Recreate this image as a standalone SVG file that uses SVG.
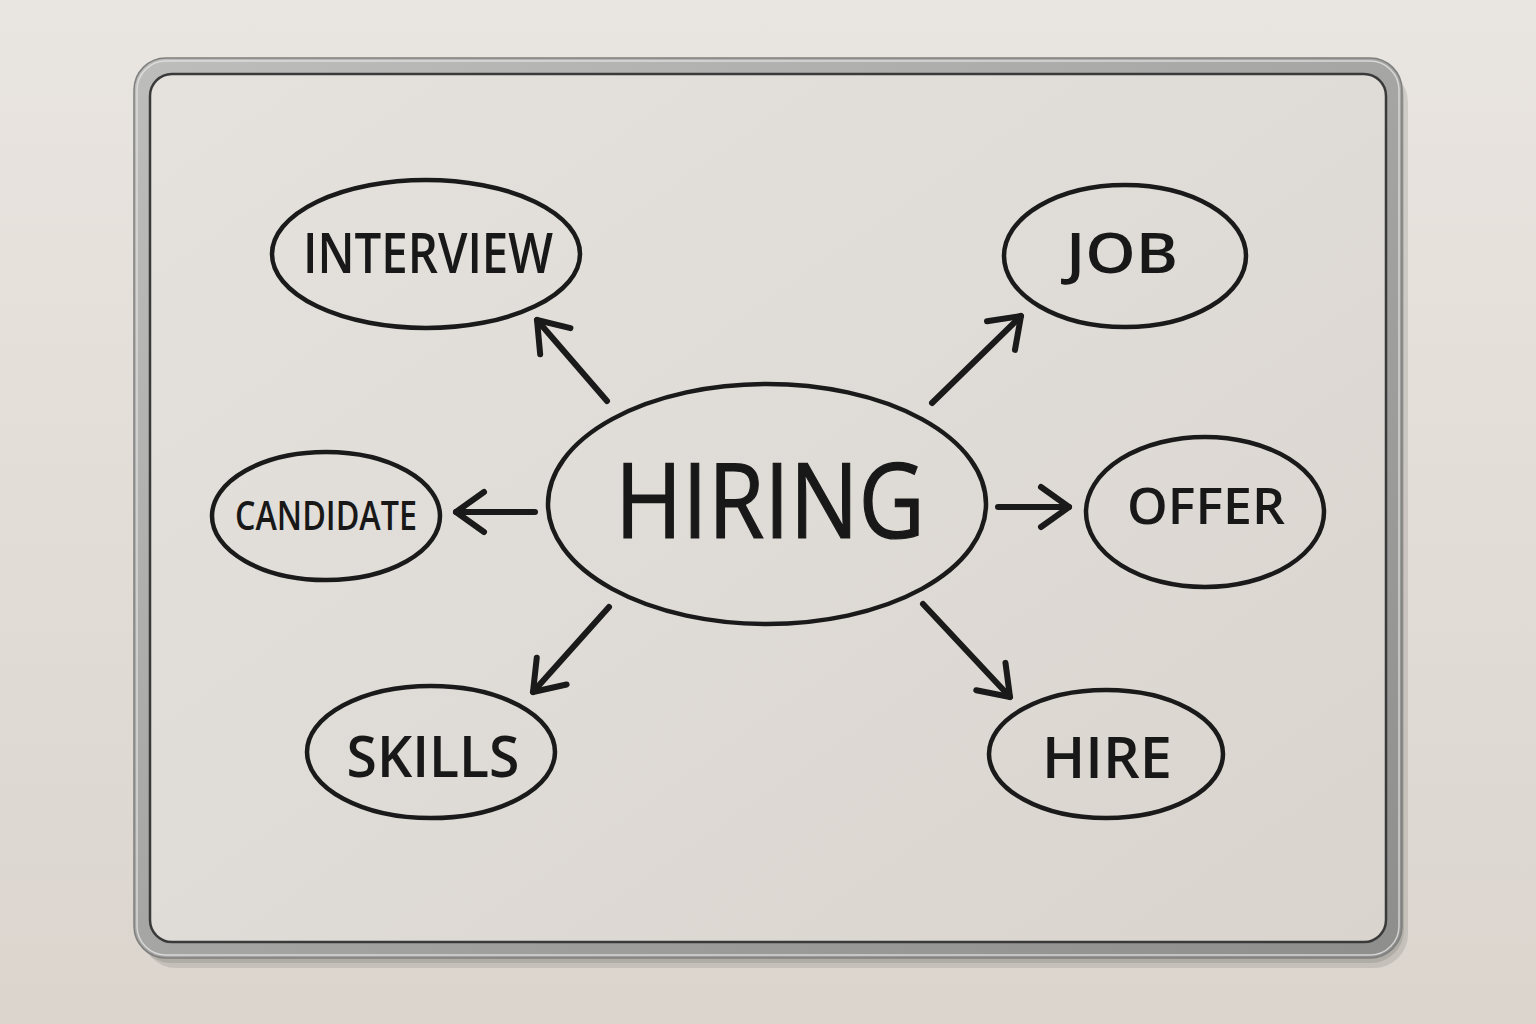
<svg xmlns="http://www.w3.org/2000/svg" width="1536" height="1024" viewBox="0 0 1536 1024">
<defs>
<linearGradient id="wall" x1="0" y1="0" x2="0" y2="1">
<stop offset="0" stop-color="#e9e5e0"/><stop offset="1" stop-color="#dbd5ce"/>
</linearGradient>
<linearGradient id="board" x1="0" y1="0" x2="1" y2="1">
<stop offset="0" stop-color="#e5e2de"/><stop offset="1" stop-color="#d9d4ce"/>
</linearGradient>
<linearGradient id="frame" x1="0" y1="0" x2="1" y2="1">
<stop offset="0" stop-color="#bdbdbc"/><stop offset="1" stop-color="#8e8e8d"/>
</linearGradient>
<radialGradient id="shadow" cx="0.5" cy="0.5" r="0.5">
<stop offset="0.85" stop-color="#000" stop-opacity="0.18"/><stop offset="1" stop-color="#000" stop-opacity="0"/>
</radialGradient>
<marker id="ah" viewBox="-40 -30 50 60" refX="0" refY="0" markerWidth="50" markerHeight="60" markerUnits="userSpaceOnUse" orient="auto" overflow="visible">
<path d="M-28,-20 L0,0 L-28,20" fill="none" stroke="#1a1a1a" stroke-width="6" stroke-linecap="round" stroke-linejoin="round"/>
</marker>
<style>
.node{fill:none;stroke:#1a1a1a;stroke-width:4.5}
.lbl{font-family:"Open Sans","Liberation Sans",sans-serif;font-weight:600;fill:#181818;text-anchor:middle}
.big{font-family:"Open Sans","Liberation Sans",sans-serif;font-weight:400;fill:#181818;stroke:#181818;stroke-width:1.2;text-anchor:middle}
.con{fill:none;stroke:#1a1a1a;stroke-width:6;stroke-linecap:round}
</style>
</defs>
<rect width="1536" height="1024" fill="url(#wall)"/>
<rect x="142" y="68" width="1266" height="900" rx="34" fill="#000" opacity="0.10"/>
<rect x="138" y="63" width="1266" height="900" rx="33" fill="#000" opacity="0.10"/>
<rect x="134" y="58" width="1268" height="900" rx="32" fill="url(#frame)" stroke="#7f7f7e" stroke-width="1.5"/>
<rect x="137" y="61" width="1262" height="894" rx="29" fill="none" stroke="#e4e4e4" stroke-width="1.5" opacity="0.8"/>
<rect x="150" y="74" width="1236" height="868" rx="22" fill="url(#board)" stroke="#3a3a3a" stroke-width="2.5"/>
<g id="hiring"><ellipse class="node" cx="767" cy="504" rx="219" ry="120"/><text class="big" x="770" y="538" font-size="104" textLength="310" lengthAdjust="spacingAndGlyphs">HIRING</text></g>
<g id="interview"><ellipse class="node" cx="426" cy="254" rx="154" ry="74"/><text class="lbl" x="428" y="273" font-size="56" textLength="250" lengthAdjust="spacingAndGlyphs">INTERVIEW</text></g>
<g id="job"><ellipse class="node" cx="1125" cy="256" rx="121" ry="71"/><text class="lbl" x="1122" y="273" font-size="56" textLength="112" lengthAdjust="spacingAndGlyphs">JOB</text></g>
<g id="candidate"><ellipse class="node" cx="326" cy="516" rx="114" ry="64"/><text class="lbl" x="326" y="530" font-size="39" textLength="182" lengthAdjust="spacingAndGlyphs">CANDIDATE</text></g>
<g id="offer"><ellipse class="node" cx="1205" cy="512" rx="119" ry="75"/><text class="lbl" x="1206" y="524" font-size="51" textLength="158" lengthAdjust="spacingAndGlyphs">OFFER</text></g>
<g id="skills"><ellipse class="node" cx="431" cy="752" rx="124" ry="66"/><text class="lbl" x="433" y="777" font-size="57" textLength="173" lengthAdjust="spacingAndGlyphs">SKILLS</text></g>
<g id="hire"><ellipse class="node" cx="1106" cy="754" rx="117" ry="64"/><text class="lbl" x="1107" y="778" font-size="58" textLength="130" lengthAdjust="spacingAndGlyphs">HIRE</text></g>
<g id="connectors">
<line class="con" x1="607" y1="401" x2="537" y2="320" marker-end="url(#ah)"/>
<line class="con" x1="932" y1="403" x2="1021" y2="316" marker-end="url(#ah)"/>
<line class="con" x1="535" y1="512" x2="456" y2="512" marker-end="url(#ah)"/>
<line class="con" x1="998" y1="507" x2="1069" y2="507" marker-end="url(#ah)"/>
<line class="con" x1="609" y1="607" x2="533" y2="692" marker-end="url(#ah)"/>
<line class="con" x1="923" y1="604" x2="1010" y2="697" marker-end="url(#ah)"/>
</g>
</svg>
